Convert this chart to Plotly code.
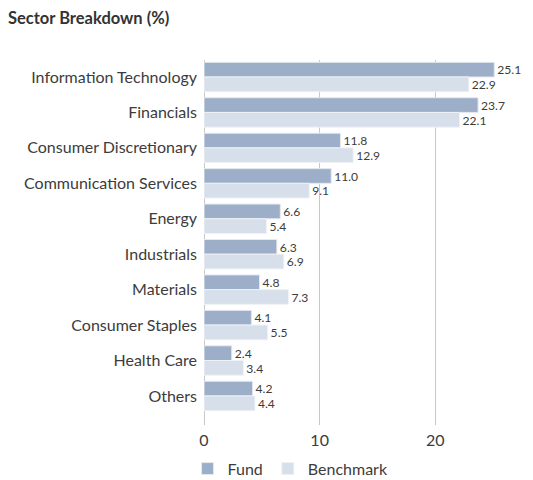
import plotly.graph_objects as go

# sector weights (%)
sectors = ['Information Technology', 'Financials', 'Consumer Discretionary',
           'Communication Services', 'Energy', 'Industrials', 'Materials',
           'Consumer Staples', 'Health Care', 'Others']
fund = [25.1, 23.7, 11.8, 11.0, 6.6, 6.3, 4.8, 4.1, 2.4, 4.2]
benchmark = [22.9, 22.1, 12.9, 9.1, 5.4, 6.9, 7.3, 5.5, 3.4, 4.4]

FONT = 'Lato'
TXT = '#3c3c3c'

fig = go.Figure()

fig.add_trace(go.Bar(
    y=sectors, x=fund, name='Fund', orientation='h',
    marker=dict(color='#9dafc8', line=dict(color='#e4e9f0', width=1)),
    text=[f'{v:.1f}' for v in fund], textposition='outside',
    textfont=dict(family=FONT, size=14, color=TXT), cliponaxis=False,
))
fig.add_trace(go.Bar(
    y=sectors, x=benchmark, name='Benchmark', orientation='h',
    marker=dict(color='#d6dfea', line=dict(color='#eef1f6', width=1)),
    text=[f'{v:.1f}' for v in benchmark], textposition='outside',
    textfont=dict(family=FONT, size=14, color=TXT), cliponaxis=False,
))

# the page body adds an 8px margin, so the figure is 8px smaller and shifted
fig.update_layout(
    width=525, height=472,
    margin=dict(l=196, r=11, t=52, b=55, autoexpand=False),
    paper_bgcolor='white', plot_bgcolor='white',
    font=dict(family=FONT, size=16, color=TXT),
    title=dict(text='<b>Sector Breakdown (%)</b>', x=0.0, xanchor='left',
               y=0.99, yanchor='top',
               font=dict(family=FONT, size=16.5, color='#333333')),
    barmode='group', bargap=0.17, bargroupgap=0,
    showlegend=True,
    legend=dict(orientation='h', xref='container', x=0.342, xanchor='left',
                yref='container', y=0.024, yanchor='middle',
                font=dict(family=FONT, size=16, color=TXT),
                itemwidth=30, traceorder='normal'),
)

fig.update_xaxes(range=[0, 27.5], tickvals=[0, 10, 20], showgrid=True,
                 gridcolor='#c8c8c8', gridwidth=1, zeroline=True,
                 zerolinecolor='#c8c8c8', zerolinewidth=1, automargin=False,
                 tickfont=dict(family=FONT, size=16, color=TXT), ticks='',
                 ticklabelstandoff=4)
fig.update_yaxes(range=[9.82, -0.48], categoryorder='array', categoryarray=sectors,
                 ticks='', ticklabelstandoff=6, showgrid=False, automargin=False,
                 tickfont=dict(family=FONT, size=16, color=TXT))

fig.write_html('out.html')
